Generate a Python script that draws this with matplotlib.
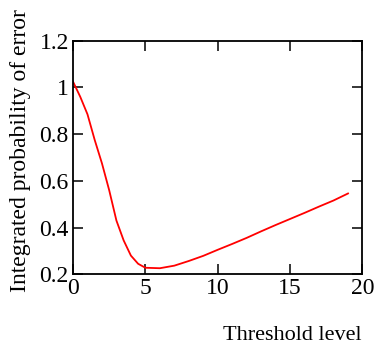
import matplotlib
matplotlib.use("Agg")
import matplotlib.pyplot as plt

threshold = [0, 0.5, 1, 1.5, 2, 2.5, 3, 3.5, 4, 4.5, 5, 6, 7, 8, 9,
             10, 11, 12, 13, 14, 15, 16, 17, 18, 19]
prob_error = [1.025, 0.96, 0.885, 0.775, 0.675, 0.56, 0.43, 0.345, 0.28, 0.245, 0.228,
              0.226, 0.237, 0.257, 0.279, 0.305, 0.33, 0.356, 0.384, 0.411,
              0.437, 0.463, 0.49, 0.516, 0.546]
xticks = [0, 5, 10, 15, 20]
yticks = [0.2, 0.4, 0.6, 0.8, 1.0, 1.2]
ytick_labels = ["0.2", "0.4", "0.6", "0.8", "1", "1.2"]

plt.rcParams['font.family'] = ['Liberation Serif', 'DejaVu Serif']

fig = plt.figure(figsize=(3.79, 3.45), dpi=100)
ax = fig.add_axes([73/379, 1-274.3/345, (362.5-73)/379, (274.3-40.7)/345])
ax.plot(threshold, prob_error, color='#ff0000', lw=1.3)
ax.set_xlim(0, 20)
ax.set_ylim(0.2, 1.2)
ax.set_xticks(xticks)
ax.set_xticklabels([str(t) for t in xticks])
ax.set_yticks(yticks)
ax.set_yticklabels(ytick_labels)
ax.tick_params(direction='in', top=True, right=True, length=7, width=1.1,
               labelsize=17, pad=3, colors='black')
for s in ax.spines.values():
    s.set_linewidth(1.3)
    s.set_color('black')

fig.text(362/379, 1-336/345, "Threshold level", ha='right', va='center', fontsize=16)
fig.text(21/379, 1-151/345, "Integrated probability of error", rotation=90,
         ha='center', va='center', fontsize=17)

fig.savefig("out.png", dpi=100)
